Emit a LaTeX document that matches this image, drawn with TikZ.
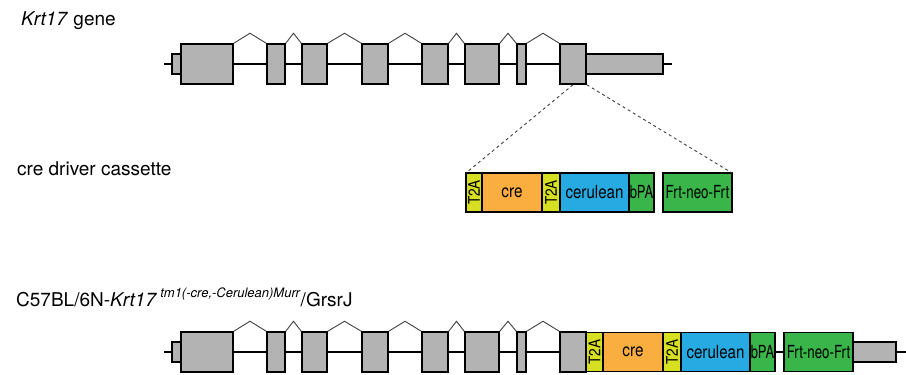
\documentclass[tikz,border=0pt]{standalone}
\usepackage{fontspec}
\setmainfont{TeX Gyre Heros}
\usetikzlibrary{calc}

\definecolor{exongray}{HTML}{B3B3B3}
\definecolor{tyellow}{HTML}{D7DF23}
\definecolor{creorange}{HTML}{FBAE40}
\definecolor{cerblue}{HTML}{27AAE1}
\definecolor{pagreen}{HTML}{39B54A}

\newcommand{\narrow}[2]{\scalebox{#1}[1]{#2}}
\newcommand{\tta}{\rotatebox{90}{\narrow{.85}{\fontsize{16}{16}\selectfont T2A}}}

\begin{document}
\begin{tikzpicture}[x=1pt, y=-1pt,
    exon/.style={draw, line width=1.5pt, fill=exongray, inner sep=0pt, minimum height=40pt},
    utr/.style={draw, line width=1.5pt, fill=exongray, inner sep=0pt, outer sep=0pt, minimum height=20pt},
    part/.style={draw, line width=1.5pt, inner sep=0pt, outer sep=0pt, minimum height=39pt, font=\fontsize{18}{18}\selectfont},
    backbone/.style={line width=1.4pt},
    splice/.style={draw=black!75, line width=0.9pt},
    title/.style={anchor=base west, inner sep=0pt, font=\fontsize{19}{20}\selectfont}]
  \useasboundingbox (0,0) rectangle (906,375);

  % labels
  \node[title] (lgene) at (21,25) {\textit{Krt17} gene};
  \node[title] (lcass) at (17,175) {cre driver cassette};
  \node[title] (lstrain) at (16,306) {C57BL/6N-\textit{Krt17}\,\raisebox{9pt}{\fontsize{13}{13}\selectfont\textit{tm1(-cre,-Cerulean)Murr}}/GrsrJ};

  % both gene rows
  \foreach \r/\y in {t/64, b/352} {
    \coordinate (\r s) at (164,\y);
    \node[utr, minimum width=9pt] (\r0) at (176.5,\y) {};
    \foreach \n/\a/\b in {1/181/233, 2/267/285, 3/302/327, 4/362/388, 5/422/448, 6/465/499, 7/517/526, 8/560/586}
      \node[exon, minimum width={(\b-\a)*1pt}] (\r\n) at ({(\a+\b)/2},\y) {};
    \foreach \n [evaluate=\n as \m using int(\n+1)] in {1,...,7}
      \draw[splice] (\r\n.north east) -- ($(\r\n.north east)!.5!(\r\m.north west)+(0,-10)$) -- (\r\m.north west);
    \draw[backbone] (\r s) -- (\r0.west) (\r0.east) -- (\r1.west);
    \foreach \n [evaluate=\n as \m using int(\n+1)] in {1,...,7}
      \draw[backbone] (\r\n.east) -- (\r\m.west);
  }

  % wild type 3' end
  \node[utr, minimum width=77pt] (tutr) at (624.5,64) {};
  \coordinate (te) at (672,64);
  \draw[backbone] (tutr.east) -- (te);

  % cassette
  \node[part, fill=tyellow, minimum width=16pt] (c1) at (474,192.5) {\tta};
  \node[part, fill=creorange, minimum width=60pt, anchor=west] (c2) at (c1.east) {\narrow{.85}{cre}};
  \node[part, fill=tyellow, minimum width=18pt, anchor=west] (c3) at (c2.east) {\tta};
  \node[part, fill=cerblue, minimum width=69pt, anchor=west] (c4) at (c3.east) {\narrow{.84}{cerulean}};
  \node[part, fill=pagreen, minimum width=25pt, anchor=west] (c5) at (c4.east) {\narrow{.72}{bPA}};
  \node[part, fill=pagreen, minimum width=69pt] (c6) at (697.5,192.5) {\narrow{.74}{Frt-neo-Frt}};
  \draw[dashed, line width=0.9pt, black!75] (t8.south) -- (c1.north west);
  \draw[dashed, line width=0.9pt, black!75] (t8.south east) -- (c6.north east);

  % targeted allele
  \node[part, fill=tyellow, minimum width=17pt, anchor=west] (k1) at (586,352) {\tta};
  \node[part, fill=creorange, minimum width=60pt, anchor=west] (k2) at (k1.east) {\narrow{.85}{cre}};
  \node[part, fill=tyellow, minimum width=18pt, anchor=west] (k3) at (k2.east) {\tta};
  \node[part, fill=cerblue, minimum width=69pt, anchor=west] (k4) at (k3.east) {\narrow{.84}{cerulean}};
  \node[part, fill=pagreen, minimum width=25pt, anchor=west] (k5) at (k4.east) {\narrow{.72}{bPA}};
  \node[part, fill=pagreen, minimum width=69pt] (k6) at (818.5,352) {\narrow{.74}{Frt-neo-Frt}};
  \node[utr, minimum width=43pt, anchor=west] (butr) at (k6.east) {};
  \coordinate (be) at (906,352);
  \draw[backbone] (k5.east) -- (k6.west) (butr.east) -- (be);
\end{tikzpicture}
\end{document}
